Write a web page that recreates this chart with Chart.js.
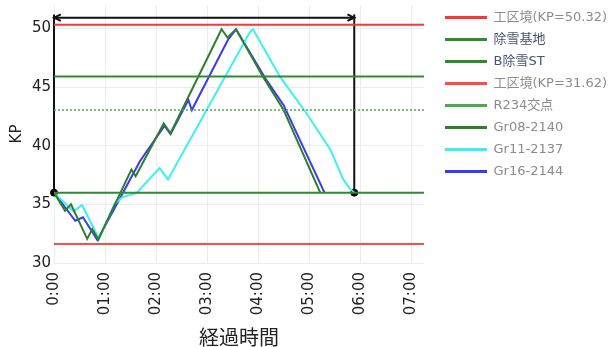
<!DOCTYPE html>
<html>
<head>
<meta charset="utf-8">
<script src="https://cdn.jsdelivr.net/npm/chart.js@4.4.1/dist/chart.umd.min.js"></script>
<style>
  body { margin: 0; background: #fff; }
  #wrap { position: relative; width: 616px; height: 347px; }
</style>
</head>
<body>
<div id="wrap"><canvas id="kpChart"></canvas></div>
<script>
// axis ticks (x in minutes since start)
const xTickValues = [0, 60, 120, 180, 240, 300, 360, 420];
const xTickLabels = ["0:00", "01:00", "02:00", "03:00", "04:00", "05:00", "06:00", "07:00"];
const yTickValues = [30, 35, 40, 45, 50];

// horizontal reference lines
const refNames = ["工区境(KP=50.32)", "除雪基地", "B除雪ST", "工区境(KP=31.62)", "R234交点"];
const refKP = [50.32, 45.9, 36, 31.62, 43.05];

// vehicle runs
const runNames = ["Gr08-2140", "Gr11-2137", "Gr16-2144"];
const gr08Min = [0, 13, 20, 39, 45, 52, 91, 96, 129, 137, 197, 204, 214, 246, 270, 313];
const gr08KP  = [36, 34.45, 35.0, 32.06, 32.9, 32.0, 37.97, 37.4, 41.9, 41.06, 49.93, 49.23, 49.93, 45.85, 43.04, 36.0];
const gr11Min = [0, 23, 33, 53, 71, 80, 97, 124, 134, 230, 234, 266, 297, 325, 340, 347, 353];
const gr11KP  = [36, 34.4, 34.95, 32.06, 35.0, 35.6, 35.95, 38.1, 37.13, 49.65, 49.93, 45.85, 42.75, 39.66, 37.13, 36.4, 36.0];
const gr16Min = [0, 25, 34, 51, 76, 101, 130, 137, 158, 162, 205, 214, 250, 270, 318];
const gr16KP  = [36, 33.6, 33.9, 31.95, 35.3, 38.68, 41.7, 41.0, 43.9, 43.04, 49.09, 49.93, 45.57, 43.46, 36.0];

// measured span (black frame with arrow)
const spanStart = 0, spanEnd = 353;
const spanBottom = 36, spanTop = 51.2, arrowKP = 50.92;
const arrowLen = 8, arrowHalf = 0.28;

const xMax = 435;

const toPts = (xs, ys) => xs.map((x, i) => ({ x: x, y: ys[i] }));
const hLine = (v) => [{ x: 0, y: v }, { x: xMax, y: v }];

const refColors = ["#ff3535", "#2e8b2e", "#2e8b2e", "#ff4a4a", "#4caa4c"];
const runColors = ["#2f7f2f", "#3cf0f0", "#3a3af0"];

const datasets = [];
refNames.forEach((name, i) => {
    datasets.push({
        label: name,
        data: hLine(refKP[i]),
        borderColor: refColors[i],
        borderWidth: i === 4 ? 1.5 : 2,
        borderDash: i === 4 ? [2, 2] : []
    });
});
[[gr08Min, gr08KP], [gr11Min, gr11KP], [gr16Min, gr16KP]].forEach((run, i) => {
    datasets.push({
        label: runNames[i],
        data: toPts(run[0], run[1]),
        borderColor: runColors[i],
        borderWidth: 2
    });
});

// black frame: verticals, arrow, arrowheads, end dots
const frame = [
    [{ x: spanStart, y: spanBottom }, { x: spanStart, y: spanTop }],
    [{ x: spanEnd, y: spanBottom }, { x: spanEnd, y: spanTop }],
    [{ x: spanStart, y: arrowKP }, { x: spanEnd, y: arrowKP }],
    [{ x: spanStart + arrowLen, y: arrowKP + arrowHalf }, { x: spanStart, y: arrowKP }, { x: spanStart + arrowLen, y: arrowKP - arrowHalf }],
    [{ x: spanEnd - arrowLen, y: arrowKP + arrowHalf }, { x: spanEnd, y: arrowKP }, { x: spanEnd - arrowLen, y: arrowKP - arrowHalf }]
];
frame.forEach(d => {
    datasets.push({ label: "", data: d, borderColor: "#111", borderWidth: 2, clip: false });
});
datasets.push({
    label: "",
    data: [{ x: spanStart, y: spanBottom }, { x: spanEnd, y: spanBottom }],
    showLine: false,
    clip: false,
    pointRadius: 3.5,
    pointBackgroundColor: "#000",
    pointBorderColor: "#000"
});

const legendCount = refNames.length + runNames.length;

const legendFit = {
    id: "legendFit",
    beforeInit(chart) {
        const fit = chart.legend.fit;
        chart.legend.fit = function () {
            fit.call(this);
            this.width = 192;
        };
    },
    afterLayout(chart) {
        chart.legend.left += 12;
    }
};

const tickFont = { family: "'DejaVu Sans', sans-serif", size: 15 };

new Chart(document.getElementById("kpChart"), {
    type: "line",
    data: { datasets: datasets },
    plugins: [legendFit],
    options: {
        responsive: true,
        maintainAspectRatio: false,
        animation: false,
        layout: { padding: { top: 2, right: 0, bottom: 0, left: 0 } },
        elements: {
            line: { tension: 0, fill: false },
            point: { radius: 0 }
        },
        plugins: {
            tooltip: { enabled: false },
            legend: {
                position: "right",
                align: "start",
                labels: {
                    usePointStyle: true,
                    pointStyle: "line",
                    pointStyleWidth: 42,
                    padding: 9,
                    font: { family: "'DejaVu Sans', 'Noto Sans CJK JP', sans-serif", size: 13 },
                    filter: item => item.datasetIndex < legendCount,
                    generateLabels(chart) {
                        const items = Chart.defaults.plugins.legend.labels.generateLabels(chart);
                        return items.map(item => {
                            item.lineWidth = 3;
                            item.fontColor = (item.datasetIndex === 1 || item.datasetIndex === 2) ? "#4b5270" : "#8c8c8c";
                            return item;
                        });
                    }
                }
            }
        },
        scales: {
            x: {
                type: "linear",
                min: 0,
                max: xMax,
                afterBuildTicks: scale => {
                    scale.ticks = xTickValues.map(v => ({ value: v }));
                },
                afterFit: scale => { scale.height = 84; },
                ticks: {
                    autoSkip: false,
                    minRotation: 90,
                    maxRotation: 90,
                    padding: 9,
                    color: "#222",
                    font: tickFont,
                    callback: (v, i) => xTickLabels[i]
                },
                grid: { color: "#ececec", drawTicks: false },
                border: { display: false },
                title: {
                    display: true,
                    text: "経過時間",
                    color: "#222",
                    padding: 0,
                    font: { family: "'Noto Sans CJK JP', sans-serif", size: 20, lineHeight: 1 }
                }
            },
            y: {
                type: "linear",
                min: 30,
                max: 52,
                afterBuildTicks: scale => {
                    scale.ticks = yTickValues.map(v => ({ value: v }));
                },
                afterFit: scale => {
                    scale.width = 54;
                    scale.paddingTop = 0;
                    scale.paddingBottom = 0;
                },
                ticks: { padding: 3, color: "#222", font: tickFont },
                grid: { color: "#ececf0", drawTicks: false },
                border: { display: false },
                title: {
                    display: true,
                    text: "KP",
                    color: "#222",
                    padding: { top: 8, bottom: 0 },
                    font: { family: "'DejaVu Sans', sans-serif", size: 15 }
                }
            }
        }
    }
});
</script>
</body>
</html>
